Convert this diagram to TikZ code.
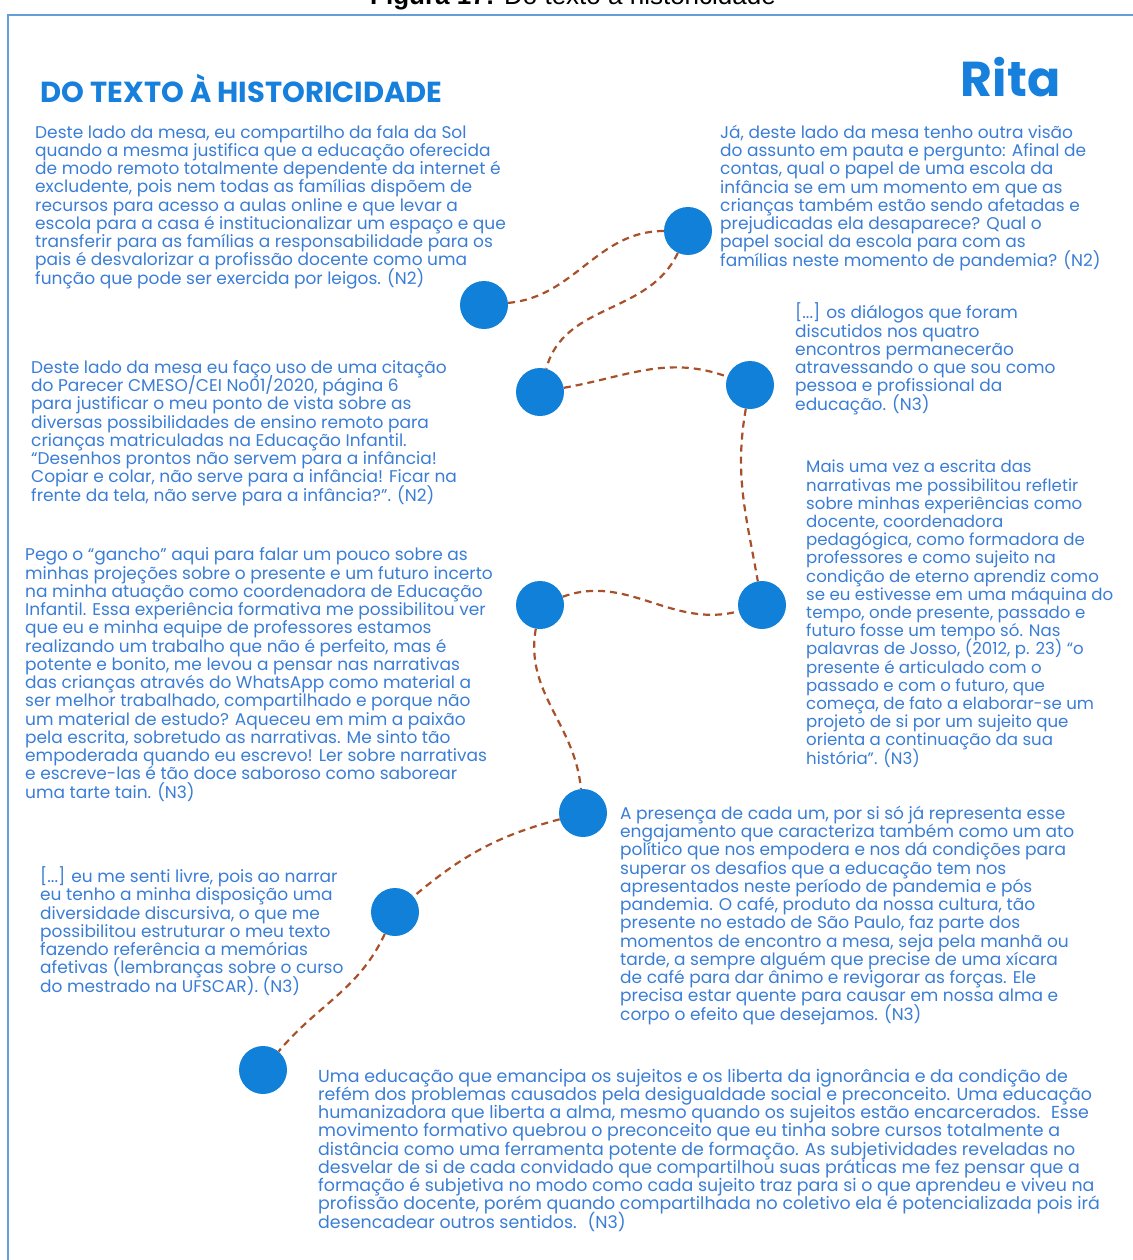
\documentclass[tikz,border=0pt]{standalone}
\usepackage{fontspec}
\setmainfont{Poppins}
\newfontfamily\capfont{Liberation Sans}
\usetikzlibrary{positioning}
\definecolor{dotblue}{RGB}{16,128,216}
\definecolor{txtblue}{RGB}{58,125,214}
\definecolor{titleblue}{RGB}{22,128,220}
\definecolor{linkbrown}{RGB}{168,80,42}
\definecolor{frameblue}{RGB}{100,158,214}
\setlength{\lineskiplimit}{-100pt}

\begin{document}
\begin{tikzpicture}[%
    x=1pt,y=1pt,
    dot/.style={circle,fill=dotblue,minimum size=48pt,inner sep=0pt},
    link/.style={draw=linkbrown,line width=2.2pt,dash pattern=on 7pt off 5pt},
    quote/.style={anchor=base west,align=left,inner sep=0pt,text=txtblue,
      font=\fontsize{17}{18.25}\selectfont}
  ]
  \useasboundingbox (0,-1260) rectangle (1132,0);

  % frame and caption
  \draw[frameblue,line width=2pt] (8,-1262) -- (8,-15) -- (1134,-15);
  \node[anchor=base,font=\capfont\fontsize{26}{28}\selectfont] (cap) at (573,-5)
    {\textbf{Figura 17:} Do texto à historicidade};

  % headings
  \node[anchor=base west,text=titleblue,font=\bfseries\fontsize{29}{32}\selectfont]
    (title) at (37,-103) {DO TEXTO À HISTORICIDADE};
  \node[anchor=base east,text=titleblue,font=\bfseries\fontsize{49}{52}\selectfont]
    (name) at (1064,-97) {Rita};

  % stations of the path
  \node[dot] (p1) at (484,-305) {};
  \node[dot] (p2) at (688,-231) {};
  \node[dot] (p3) at (540,-392) {};
  \node[dot] (p4) at (750,-385) {};
  \node[dot] (p5) at (540,-605) {};
  \node[dot] (p6) at (762,-605) {};
  \node[dot] (p7) at (583,-813) {};
  \node[dot] (p8) at (395,-912) {};
  \node[dot] (p9) at (263,-1070) {};

  \path (p1) edge[link,out=5,in=180]     (p2)
        (p2) edge[link,out=-115,in=75]   (p3)
        (p3) edge[link,out=10,in=160]    (p4)
        (p4) edge[link,out=-100,in=100]  (p6)
        (p5) edge[link,out=20,in=195]    (p6)
        (p5) edge[link,out=-100,in=95]   (p7)
        (p7) edge[link,out=195,in=40]    (p8)
        (p8) edge[link,out=-115,in=50]   (p9);

  % the texts (placed at the baseline of their last line)
  \node[quote] (t1) at (35,-284) {Deste lado da mesa, eu compartilho da fala da Sol\\
    quando a mesma justifica que a educação oferecida\\
    de modo remoto totalmente dependente da internet é\\
    excludente, pois nem todas as famílias dispõem de\\
    recursos para acesso a aulas online e que levar a\\
    escola para a casa é institucionalizar um espaço e que\\
    transferir para as famílias a responsabilidade para os\\
    pais é desvalorizar a profissão docente como uma\\
    função que pode ser exercida por leigos. (N2)};
  \node[quote] (t2) at (720,-266) {Já, deste lado da mesa tenho outra visão\\
    do assunto em pauta e pergunto: Afinal de\\
    contas, qual o papel de uma escola da\\
    infância se em um momento em que as\\
    crianças também estão sendo afetadas e\\
    prejudicadas ela desaparece? Qual o\\
    papel social da escola para com as\\
    famílias neste momento de pandemia? (N2)};
  \node[quote] (t3) at (795,-410) {[...] os diálogos que foram\\
    discutidos nos quatro\\
    encontros permanecerão\\
    atravessando o que sou como\\
    pessoa e profissional da\\
    educação. (N3)};
  \node[quote] (t4) at (31,-501) {Deste lado da mesa eu faço uso de uma citação\\
    do Parecer CMESO/CEI No01/2020, página 6\\
    para justificar o meu ponto de vista sobre as\\
    diversas possibilidades de ensino remoto para\\
    crianças matriculadas na Educação Infantil.\\
    “Desenhos prontos não servem para a infância!\\
    Copiar e colar, não serve para a infância! Ficar na\\
    frente da tela, não serve para a infância?”. (N2)};
  \node[quote,font=\fontsize{16.6}{18.2}\selectfont] (t5) at (806,-764) {Mais uma vez a escrita das\\
    narrativas me possibilitou refletir\\
    sobre minhas experiências como\\
    docente, coordenadora\\
    pedagógica, como formadora de\\
    professores e como sujeito na\\
    condição de eterno aprendiz como\\
    se eu estivesse em uma máquina do\\
    tempo, onde presente, passado e\\
    futuro fosse um tempo só. Nas\\
    palavras de Josso, (2012, p. 23) “o\\
    presente é articulado com o\\
    passado e com o futuro, que\\
    começa, de fato a elaborar-se um\\
    projeto de si por um sujeito que\\
    orienta a continuação da sua\\
    história”. (N3)};
  \node[quote] (t6) at (25,-798) {Pego o “gancho” aqui para falar um pouco sobre as\\
    minhas projeções sobre o presente e um futuro incerto\\
    na minha atuação como coordenadora de Educação\\
    Infantil. Essa experiência formativa me possibilitou ver\\
    que eu e minha equipe de professores estamos\\
    realizando um trabalho que não é perfeito, mas é\\
    potente e bonito, me levou a pensar nas narrativas\\
    das crianças através do WhatsApp como material a\\
    ser melhor trabalhado, compartilhado e porque não\\
    um material de estudo? Aqueceu em mim a paixão\\
    pela escrita, sobretudo as narrativas. Me sinto tão\\
    empoderada quando eu escrevo! Ler sobre narrativas\\
    e escreve-las é tão doce saboroso como saborear\\
    uma tarte tain. (N3)};
  \node[quote] (t7) at (620,-1020) {A presença de cada um, por si só já representa esse\\
    engajamento que caracteriza também como um ato\\
    político que nos empodera e nos dá condições para\\
    superar os desafios que a educação tem nos\\
    apresentados neste período de pandemia e pós\\
    pandemia. O café, produto da nossa cultura, tão\\
    presente no estado de São Paulo, faz parte dos\\
    momentos de encontro a mesa, seja pela manhã ou\\
    tarde, a sempre alguém que precise de uma xícara\\
    de café para dar ânimo e revigorar as forças. Ele\\
    precisa estar quente para causar em nossa alma e\\
    corpo o efeito que desejamos. (N3)};
  \node[quote] (t8) at (40,-992) {[...] eu me senti livre, pois ao narrar\\
    eu tenho a minha disposição uma\\
    diversidade discursiva, o que me\\
    possibilitou estruturar o meu texto\\
    fazendo referência a memórias\\
    afetivas (lembranças sobre o curso\\
    do mestrado na UFSCAR). (N3)};
  \node[quote,font=\fontsize{17.4}{18.25}\selectfont] (t9) at (318,-1228) {Uma educação que emancipa os sujeitos e os liberta da ignorância e da condição de\\
    refém dos problemas causados pela desigualdade social e preconceito. Uma educação\\
    humanizadora que liberta a alma, mesmo quando os sujeitos estão encarcerados. \ Esse\\
    movimento formativo quebrou o preconceito que eu tinha sobre cursos totalmente a\\
    distância como uma ferramenta potente de formação. As subjetividades reveladas no\\
    desvelar de si de cada convidado que compartilhou suas práticas me fez pensar que a\\
    formação é subjetiva no modo como cada sujeito traz para si o que aprendeu e viveu na\\
    profissão docente, porém quando compartilhada no coletivo ela é potencializada pois irá\\
    desencadear outros sentidos. \ (N3)};
\end{tikzpicture}
\end{document}
